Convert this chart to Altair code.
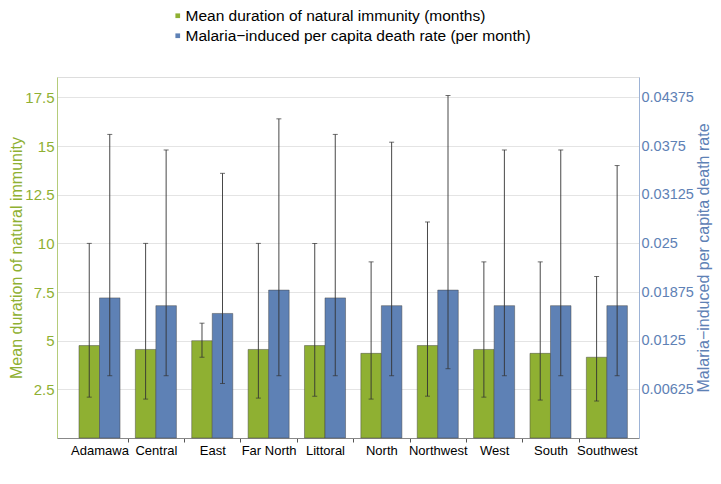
import json
import altair as alt
import pandas as pd

regions = ["Adamawa", "Central", "East", "Far North", "Littoral",
           "North", "Northwest", "West", "South", "Southwest"]
immunity = [4.75, 4.55, 5.0, 4.55, 4.75, 4.35, 4.75, 4.55, 4.35, 4.15]
immunity_lo = [2.1, 2.0, 4.15, 2.05, 2.15, 2.0, 2.15, 2.1, 1.95, 1.9]
immunity_hi = [10.0, 10.0, 5.9, 10.0, 10.0, 9.05, 11.1, 9.05, 9.05, 8.3]
death = [0.018, 0.017, 0.016, 0.019, 0.018, 0.017, 0.019, 0.017, 0.017, 0.017]
death_lo = [0.008, 0.008, 0.007, 0.008, 0.008, 0.008, 0.0089, 0.008, 0.008, 0.008]
death_hi = [0.039, 0.037, 0.034, 0.041, 0.039, 0.038, 0.044, 0.037, 0.037, 0.035]

left_ticks = [2.5, 5, 7.5, 10, 12.5, 15, 17.5]
right_ticks = [0.00625, 0.0125, 0.01875, 0.025, 0.03125, 0.0375, 0.04375]

s_imm = "Mean duration of natural immunity (months)"
s_death = "Malaria\u2212induced per capita death rate (per month)"

GREEN = "#8FB032"
BLUE = "#5E81B5"
FONT = "Liberation Sans"

df_imm = pd.DataFrame({"region": regions, "idx": list(range(len(regions))),
                       "v": immunity, "lo": immunity_lo, "hi": immunity_hi,
                       "series": s_imm})
df_death = pd.DataFrame({"region": regions, "idx": list(range(len(regions))),
                         "v": death, "lo": death_lo, "hi": death_hi,
                         "series": s_death})

BW = 0.364  # bar width in category units
xscale = alt.Scale(domain=[-0.754, 9.57], nice=False, zero=False)
tick_vals = [i * 0.5 for i in range(0, 19)]
xaxis = alt.Axis(
    values=tick_vals,
    labelExpr=f"datum.value % 1 == 0 ? {json.dumps(regions)}[datum.value] : ''",
    title=None, grid=False, tickSize=4, tickColor="#555",
    tickOpacity={"condition": {"test": "datum.value % 1 != 0", "value": 1}, "value": 0},
    labelFontSize=13, labelColor="#000", labelFont=FONT, labelPadding=2,
    labelOverlap=False, labelFlush=False, domainColor="#888",
)

ymax = 18.55
yL = alt.Scale(domain=[0, ymax], nice=False, zero=True)
yR = alt.Scale(domain=[0, ymax * 0.0025], nice=False, zero=True)

axL = alt.Axis(values=left_ticks, labelExpr="'' + datum.value",
               title="Mean duration of natural immunity",
               titleColor=GREEN, titleFontSize=16, titleFont=FONT, titleFontWeight="normal",
               titlePadding=0, labelColor=GREEN, labelFontSize=15, labelFont=FONT,
               ticks=False, labelPadding=3, domainColor="#B5CC7A", gridColor="#E4E4E4",
               labelFlush=False, labelOverlap=False)
axR = alt.Axis(values=right_ticks, labelExpr="'' + datum.value", orient="right",
               title="Malaria\u2212induced per capita death rate",
               titleColor=BLUE, titleFontSize=16, titleFont=FONT, titleFontWeight="normal",
               titleAngle=270, titleBaseline="top", titlePadding=2,
               labelColor=BLUE, labelFontSize=14.5,
               labelFont=FONT, ticks=False, labelPadding=2, domainColor="#9DB3D6",
               grid=False, labelFlush=False, labelOverlap=False)

color = alt.Color("series:N",
                  scale=alt.Scale(domain=[s_imm, s_death], range=[GREEN, BLUE]),
                  legend=alt.Legend(orient="none", legendX=113, legendY=-69,
                                    title=None, symbolType="square", symbolSize=22,
                                    symbolStrokeWidth=0, labelFontSize=15.5, labelFont=FONT,
                                    labelLimit=600, labelOffset=0, rowPadding=3,
                                    padding=0, labelColor="#000"))


def group(df, y_scale, y_axis, side):
    if side == 0:
        calc = dict(x0=f"datum.idx - {BW}", x1="datum.idx", ex=f"datum.idx - {BW / 2}")
    else:
        calc = dict(x0="datum.idx", x1=f"datum.idx + {BW}", ex=f"datum.idx + {BW / 2}")
    base = alt.Chart(df).transform_calculate(**calc)
    bars = base.mark_bar(stroke="#444", strokeWidth=0.8, strokeOpacity=0.6).encode(
        x=alt.X("x0:Q", scale=xscale, axis=xaxis),
        x2="x1:Q",
        y=alt.Y("v:Q", scale=y_scale, axis=y_axis),
        y2=alt.Y2Datum(0),
        color=color,
    )
    rule = base.mark_rule(color="#333", strokeWidth=0.9).encode(
        x=alt.X("ex:Q", scale=xscale, axis=xaxis),
        y=alt.Y("lo:Q", scale=y_scale, axis=y_axis),
        y2="hi:Q",
    )
    cap_hi = base.mark_tick(orient="horizontal", size=5, thickness=1, color="#333").encode(
        x=alt.X("ex:Q", scale=xscale, axis=xaxis),
        y=alt.Y("hi:Q", scale=y_scale, axis=y_axis),
    )
    cap_lo = base.mark_tick(orient="horizontal", size=5, thickness=1, color="#333").encode(
        x=alt.X("ex:Q", scale=xscale, axis=xaxis),
        y=alt.Y("lo:Q", scale=y_scale, axis=y_axis),
    )
    return alt.layer(bars, rule, cap_hi, cap_lo)


left = group(df_imm, yL, axL, 0)
right = group(df_death, yR, axR, 1)

chart = alt.layer(left, right).resolve_scale(y="independent").properties(
    width=582, height=361,
    padding={"left": 49, "top": 69, "right": 74, "bottom": 35},
    autosize=alt.AutoSizeParams(type="none"),
).configure_view(stroke="#9A9A9A", strokeWidth=1).configure(background="white")

chart.save("out.html", embed_options={"renderer": "svg", "actions": False})
